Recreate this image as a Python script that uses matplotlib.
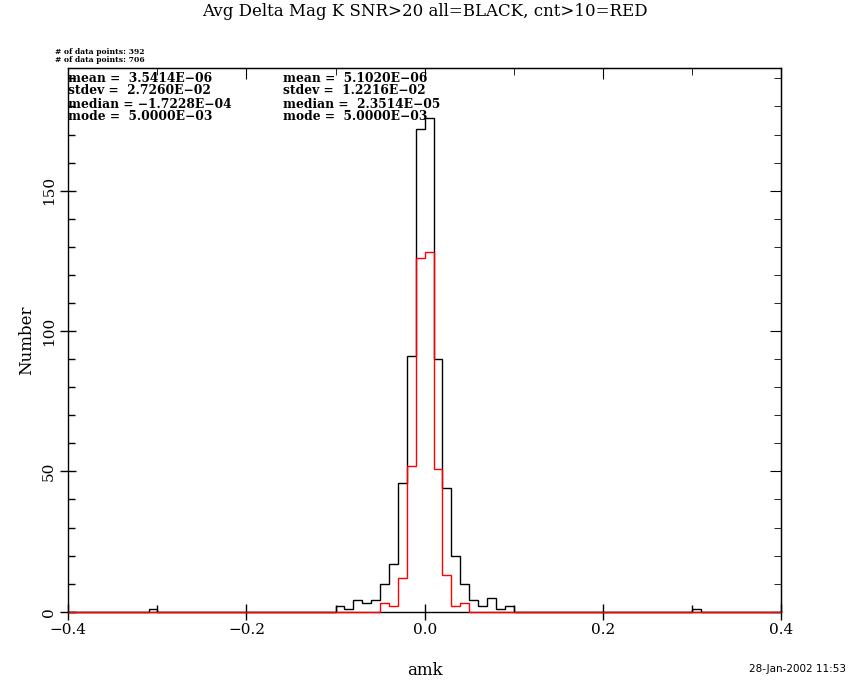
import matplotlib
matplotlib.use('Agg')
import matplotlib.pyplot as plt
import numpy as np
from matplotlib.ticker import MultipleLocator

# Data (bin width 0.01, left edges of non-empty bins)
bin_width = 0.01
xmin, xmax = -0.4, 0.4
all_left = [-0.31, -0.10, -0.09, -0.08, -0.07, -0.06, -0.05, -0.04, -0.03, -0.02, -0.01,
            0.00, 0.01, 0.02, 0.03, 0.04, 0.05, 0.06, 0.07, 0.08, 0.09, 0.30]
all_counts = [1, 2, 1, 4, 3, 4, 10, 17, 46, 91, 172,
              176, 90, 44, 20, 10, 4, 2, 5, 1, 2, 1]
cnt_left = [-0.05, -0.04, -0.03, -0.02, -0.01, 0.00, 0.01, 0.02, 0.03, 0.04]
cnt_counts = [3, 2, 12, 52, 126, 128, 51, 13, 2, 3]

stats_all = ['mean =  3.5414E\u221206', 'stdev =  2.7260E\u221202',
             'median = \u22121.7228E\u221204', 'mode =  5.0000E\u221203']
stats_cnt = ['mean =  5.1020E\u221206', 'stdev =  1.2216E\u221202',
             'median =  2.3514E\u221205', 'mode =  5.0000E\u221203']
npoints = [392, 706]

edges = np.round(np.arange(xmin, xmax + bin_width / 2, bin_width), 4)


def fill_bins(lefts, counts):
    h = np.zeros(len(edges) - 1)
    for l, c in zip(lefts, counts):
        h[int(round((l - xmin) / bin_width))] = c
    return h


h_all = fill_bins(all_left, all_counts)
h_cnt = fill_bins(cnt_left, cnt_counts)

plt.rcParams['font.family'] = 'DejaVu Serif'
fig = plt.figure(figsize=(8.5, 6.8), dpi=100)
ax = fig.add_axes([0.0804, 0.1004, 0.8384, 0.7992])

ax.stairs(h_all, edges, color='black', lw=1.0, zorder=2.6, clip_on=False)
ax.stairs(h_cnt, edges, color='red', lw=1.0, zorder=3, clip_on=False)

ax.set_xlim(xmin, xmax)
ax.set_ylim(0, max(all_counts) * 1.1)
ax.xaxis.set_major_locator(MultipleLocator(0.2))
ax.xaxis.set_minor_locator(MultipleLocator(0.1))
ax.yaxis.set_major_locator(MultipleLocator(50))
ax.yaxis.set_minor_locator(MultipleLocator(10))
ax.tick_params(which='major', direction='inout', length=12, width=1.0, labelsize=11)
ax.tick_params(which='minor', direction='in', length=5, width=1.0)
ax.tick_params(axis='x', pad=2)
ax.tick_params(axis='y', labelrotation=90, pad=3)
for lab in ax.get_yticklabels():
    lab.set_va('center')
for s in ax.spines.values():
    s.set_linewidth(1.0)

# ticks on top and right, pointing inward
top = ax.secondary_xaxis('top')
top.xaxis.set_major_locator(MultipleLocator(0.2))
top.xaxis.set_minor_locator(MultipleLocator(0.1))
top.tick_params(which='major', direction='in', length=8, labeltop=False)
top.tick_params(which='minor', direction='in', length=5)
right = ax.secondary_yaxis('right')
right.yaxis.set_major_locator(MultipleLocator(50))
right.yaxis.set_minor_locator(MultipleLocator(10))
right.tick_params(which='major', direction='in', length=8, labelright=False)
right.tick_params(which='minor', direction='in', length=5)

ax.set_xlabel('amk', fontsize=12, labelpad=18)
ax.set_ylabel('Number', fontsize=12, labelpad=5)

fig.text(0.5, 1 - 12 / 680, 'Avg Delta Mag K SNR>20 all=BLACK, cnt>10=RED',
         ha='center', va='center', fontsize=12)

for i, n in enumerate(npoints):
    fig.text(55 / 850, 1 - (52 + 8 * i) / 680, f'# of data points: {n}',
             ha='left', va='center', fontsize=5.5, fontweight='bold')

for i, (a, b) in enumerate(zip(stats_all, stats_cnt)):
    y = 1 - (78 + 13 * i) / 680
    fig.text(68 / 850, y, a, ha='left', va='center', fontsize=8.8, fontweight='bold')
    fig.text(283 / 850, y, b, ha='left', va='center', fontsize=8.8, fontweight='bold')

fig.text(846 / 850, 1 - 669 / 680, '28-Jan-2002 11:53', ha='right', va='center',
         fontsize=7.5, family='DejaVu Sans')

fig.savefig('out.png', dpi=100)
